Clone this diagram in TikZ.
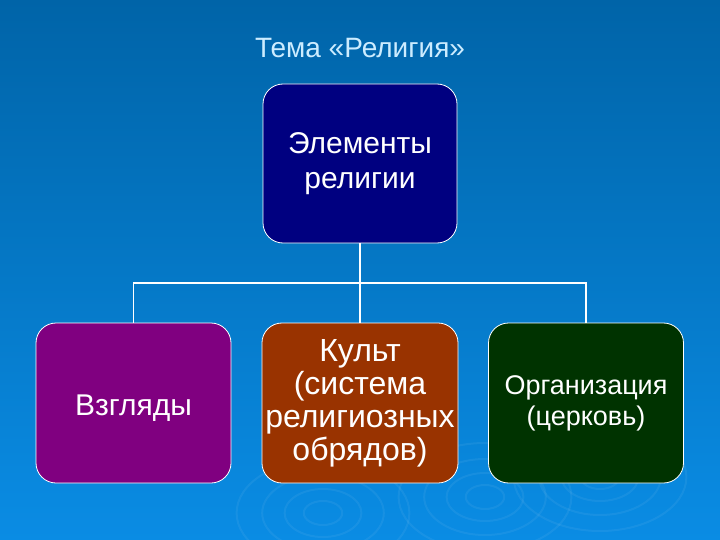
\documentclass[tikz,border=0pt]{standalone}
\usepackage{fontspec}
\setmainfont{Liberation Sans}
\usepackage{tikz}
\usetikzlibrary{backgrounds}
\usetikzlibrary{positioning}
\definecolor{slidetop}{RGB}{0,100,168}
\definecolor{slidebottom}{RGB}{10,140,228}
\definecolor{navybox}{RGB}{0,0,128}
\definecolor{purplebox}{RGB}{128,0,128}
\definecolor{brownbox}{RGB}{153,51,0}
\definecolor{greenbox}{RGB}{0,51,0}
\definecolor{titleblue}{RGB}{204,236,255}
\tikzset{every picture/.style={line width=1pt,show background rectangle},background rectangle/.style={top color=slidetop,bottom color=slidebottom},inner frame sep=0pt}
\tikzset{elem/.style={minimum width=195pt,minimum height=160pt,rounded corners=20pt,draw=white,line width=0.8pt,text=white,align=center,font=\fontsize{30}{33}\selectfont,execute at begin node={\rule{0pt}{1.05em}}},link/.style={draw=white,line width=1.6pt}}

\begin{document}
\begin{tikzpicture}[x=1pt,y=-1pt]
\useasboundingbox (0,0) rectangle (720,540);
% faint ripples
\foreach \cx/\cy in {323/513, 485/497, 600/477} {
\foreach \r in {12, 24, 38, 54} {
\draw[white,opacity=0.06,line width=2pt] (\cx,\cy) ellipse ({\r*1.6} and \r);
}
}
\node (title) at (360,48) [text=titleblue,font=\fontsize{28}{33}\selectfont] {Тема «Религия»};
\node (elements) at (360,163.5) [elem,fill=navybox,minimum width=194pt,minimum height=159pt,font=\fontsize{30}{35}\selectfont,execute at begin node={\rule{0pt}{1.25em}}] {Элементы\\религии};
\node (views) at (133.5,403) [elem,fill=purplebox] {Взгляды};
\node (cult) at (360,403) [elem,fill=brownbox,font=\fontsize{32}{33}\selectfont] {Культ\\(система\\религиозных\\обрядов)};
\node (org) at (586,403) [elem,fill=greenbox,font=\fontsize{27}{31}\selectfont] {Организация\\(церковь)};
\coordinate (bus) at (360,283);
\draw[link] (elements.south) -- (cult.north);
\draw[link] (views.north) -- (views.north |- bus) -- (org.north |- bus) -- (org.north);
\end{tikzpicture}
\end{document}
